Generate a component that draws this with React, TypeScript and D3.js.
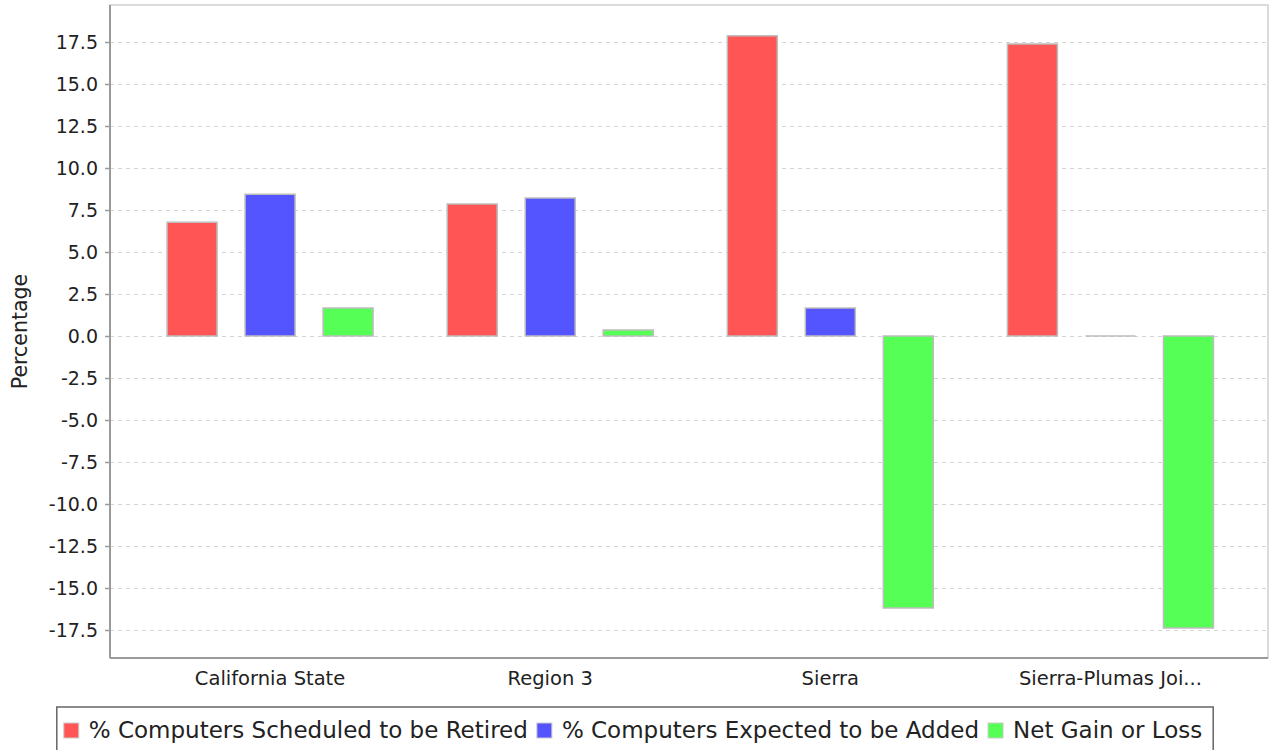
import React, { useEffect, useRef } from "react";
import * as d3 from "d3";

const categories = ["California State", "Region 3", "Sierra", "Sierra-Plumas Joi..."];
const seriesNames = [
  "% Computers Scheduled to be Retired",
  "% Computers Expected to be Added",
  "Net Gain or Loss",
];
const seriesColors = ["#FF5555", "#5555FF", "#55FF55"];
const retired = [6.77, 7.86, 17.87, 17.38];
const added = [8.43, 8.21, 1.67, 0.0];
const netGain = [1.66, 0.35, -16.2, -17.38];
const yTicks = [-17.5, -15, -12.5, -10, -7.5, -5, -2.5, 0, 2.5, 5, 7.5, 10, 12.5, 15, 17.5];
const yDomain = [-19.17, 19.7];

const W = 1270;
const H = 750;
const FONT = "'DejaVu Sans', sans-serif";

export default function App() {
  const ref = useRef<SVGSVGElement | null>(null);

  useEffect(() => {
    const svg = d3.select(ref.current);
    svg.selectAll("*").remove();

    const plot = { left: 110, right: 1268, top: 5, bottom: 658 };
    const series = [retired, added, netGain];

    const y = d3.scaleLinear().domain(yDomain).range([plot.bottom, plot.top]);
    const x0 = d3.scaleBand<string>().domain(categories).range([130, 1250.5]).padding(0);
    const groupW = 206;
    const x1 = d3
      .scaleBand<number>()
      .domain([0, 1, 2])
      .range([0, groupW])
      .paddingInner(28 / 78)
      .paddingOuter(0);

    svg.append("rect").attr("x", 0).attr("y", 0).attr("width", W).attr("height", H).attr("fill", "#fff");

    svg
      .append("rect")
      .attr("x", plot.left)
      .attr("y", plot.top)
      .attr("width", plot.right - plot.left)
      .attr("height", plot.bottom - plot.top)
      .attr("fill", "#fff")
      .attr("stroke", "#cfcfcf")
      .attr("stroke-width", 1.5);

    svg
      .append("g")
      .selectAll("line")
      .data(yTicks)
      .join("line")
      .attr("x1", plot.left)
      .attr("x2", plot.right)
      .attr("y1", (d) => Math.round(y(d)) + 0.5)
      .attr("y2", (d) => Math.round(y(d)) + 0.5)
      .attr("stroke", "#d4d4d4")
      .attr("stroke-width", 1)
      .attr("stroke-dasharray", "4,4");

    const gBars = svg.append("g");
    series.forEach((vals, si) => {
      gBars
        .selectAll(`path.s${si}`)
        .data(vals)
        .join("path")
        .attr("class", `s${si}`)
        .attr("d", (v, i) => {
          const bx = (x0(categories[i]) as number) + (x0.bandwidth() - groupW) / 2 + (x1(si) as number);
          const bw = x1.bandwidth();
          const y0 = y(0);
          const yv = y(v);
          const top = Math.min(y0, yv);
          const h = Math.abs(yv - y0);
          const p = d3.path();
          p.moveTo(bx, top);
          p.lineTo(bx + bw, top);
          p.lineTo(bx + bw, top + h);
          p.lineTo(bx, top + h);
          p.closePath();
          return p.toString();
        })
        .attr("fill", seriesColors[si])
        .attr("stroke", "#bdbdbd")
        .attr("stroke-width", 1.5);
    });

    const gy = svg.append("g");
    gy.append("line")
      .attr("x1", plot.left)
      .attr("x2", plot.left)
      .attr("y1", plot.top)
      .attr("y2", plot.bottom)
      .attr("stroke", "#9a9a9a")
      .attr("stroke-width", 2);
    gy.selectAll("line.tick")
      .data(yTicks)
      .join("line")
      .attr("class", "tick")
      .attr("x1", plot.left - 5)
      .attr("x2", plot.left)
      .attr("y1", (d) => Math.round(y(d)) + 0.5)
      .attr("y2", (d) => Math.round(y(d)) + 0.5)
      .attr("stroke", "#9a9a9a")
      .attr("stroke-width", 1.5);
    gy.selectAll("text")
      .data(yTicks)
      .join("text")
      .attr("x", plot.left - 12)
      .attr("y", (d) => y(d))
      .attr("dy", "0.36em")
      .attr("text-anchor", "end")
      .attr("font-family", FONT)
      .attr("font-size", 19)
      .attr("fill", "#222")
      .text((d) => d.toFixed(1));

    svg
      .append("text")
      .attr("transform", `translate(27, ${(plot.top + plot.bottom) / 2}) rotate(-90)`)
      .attr("text-anchor", "middle")
      .attr("font-family", FONT)
      .attr("font-size", 20.5)
      .attr("fill", "#222")
      .text("Percentage");

    svg
      .append("line")
      .attr("x1", plot.left)
      .attr("x2", plot.right)
      .attr("y1", plot.bottom)
      .attr("y2", plot.bottom)
      .attr("stroke", "#9a9a9a")
      .attr("stroke-width", 2);
    svg
      .append("g")
      .selectAll("text")
      .data(categories)
      .join("text")
      .attr("x", (d) => (x0(d) as number) + x0.bandwidth() / 2)
      .attr("y", 685)
      .attr("text-anchor", "middle")
      .attr("font-family", FONT)
      .attr("font-size", 19.5)
      .attr("fill", "#222")
      .text((d) => d);

    const lg = svg.append("g");
    const sq = 15;
    const gapSqText = 10;
    const gapItems = 9;
    const pad = 7;
    const fs = 23;
    const items: { sx: number; tx: number; w: number }[] = [];
    let cx = 0;
    const texts = seriesNames.map((name) =>
      lg
        .append("text")
        .attr("font-family", FONT)
        .attr("font-size", fs)
        .attr("fill", "#222")
        .text(name)
    );
    texts.forEach((t, i) => {
      const w = (t.node() as SVGTextElement).getComputedTextLength();
      items.push({ sx: cx, tx: cx + sq + gapSqText, w });
      cx += sq + gapSqText + w + (i < texts.length - 1 ? gapItems : 0);
    });
    const boxW = cx + pad * 2 + 4;
    const boxX = W / 2 - boxW / 2;
    const boxY = 707;
    lg.insert("rect", ":first-child")
      .attr("x", boxX)
      .attr("y", boxY)
      .attr("width", boxW)
      .attr("height", 46)
      .attr("fill", "#fff")
      .attr("stroke", "#666")
      .attr("stroke-width", 1.5);
    texts.forEach((t, i) => {
      const it = items[i];
      lg.append("rect")
        .attr("x", boxX + pad + it.sx)
        .attr("y", 723)
        .attr("width", sq)
        .attr("height", sq)
        .attr("fill", seriesColors[i])
        .attr("stroke", "#cccccc")
        .attr("stroke-width", 1);
      t.attr("x", boxX + pad + it.tx).attr("y", 738);
    });
  }, []);

  return (
    <svg
      ref={ref}
      width={W}
      height={H}
      style={{ position: "absolute", left: 0, top: 0, display: "block" }}
    />
  );
}
